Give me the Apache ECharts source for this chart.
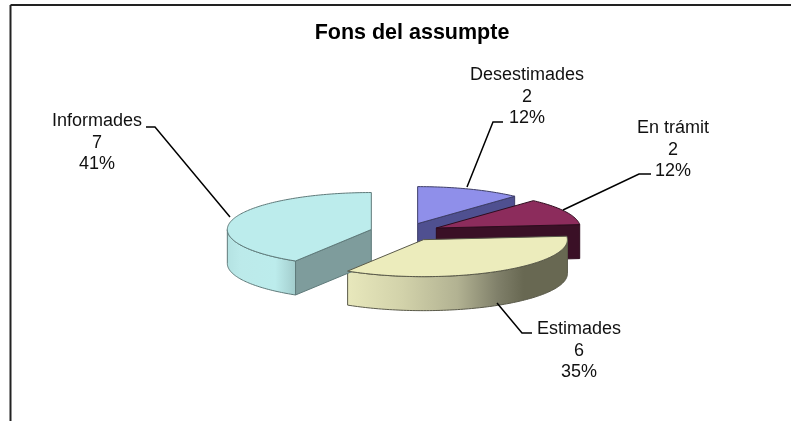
<!DOCTYPE html>
<html>
<head>
<meta charset="utf-8">
<style>html,body{margin:0;padding:0;background:#fff}#c{width:791px;height:421px}</style>
<script src="https://cdn.jsdelivr.net/npm/echarts@6/dist/echarts.min.js"></script>
</head>
<body>
<div id="c"></div>
<script>
var titleText = 'Fons del assumpte';
var categories = ['Desestimades', 'En trámit', 'Estimades', 'Informades'];
var values = [2, 2, 6, 7];

var total = values.reduce(function (a, b) { return a + b; }, 0);
var C = { x: 405, y: 232, rx: 144, ry: 37, depth: 34, explode: 35 };
var looks = [
  { top: '#8F8FEA', cut: '#4F5090', rim: null, edge: '#3e3e68' },
  { top: '#8C2C5C', cut: '#3A1026', rim: null, edge: '#2e0c1e' },
  { top: '#ECECBC', cut: '#8A8A70', edge: '#5a5a4a',
    rim: [[0, '#E8E8BC'], [0.25, '#D2D2AA'], [0.5, '#B2B292'], [0.68, '#80806A'], [0.8, '#686852'], [1, '#686852']] },
  { top: '#BCECEC', cut: '#7E9C9C', edge: '#5f7a7a',
    rim: [[0, '#B4E2E2'], [0.2, '#BCEAEA'], [0.7, '#BCECEC'], [1, '#A2CCCC']] }
];
var labelBoxes = [
  { x: 527, y: 97, line: [[503, 122], [493, 122], [467, 187]] },
  { x: 673, y: 150, line: [[651, 174], [639, 174], [563, 210]] },
  { x: 579, y: 351, line: [[532, 333], [522, 333], [497, 303]] },
  { x: 97, y: 143, line: [[146, 127], [155, 127], [230, 217]] }
];

function pt(cx, cy, a, dz) {
  return [cx + C.rx * Math.sin(a), cy - C.ry * Math.cos(a) + (dz || 0)];
}
function arc(cx, cy, a0, a1, dz) {
  var out = [], n = Math.max(2, Math.ceil(Math.abs(a1 - a0) / 0.02));
  for (var i = 0; i <= n; i++) out.push(pt(cx, cy, a0 + (a1 - a0) * i / n, dz));
  return out;
}
function poly(points, fill, stroke, z) {
  return { type: 'polygon', z2: z, shape: { points: points },
    style: { fill: fill, stroke: stroke, lineWidth: 1 } };
}
function angles(idx) {
  var before = 0;
  for (var i = 0; i < idx; i++) before += values[i];
  return [before / total * 2 * Math.PI, (before + values[idx]) / total * 2 * Math.PI];
}

function renderItem(params, api) {
  var i = params.dataIndex, v = api.value(0);
  var ang = angles(i), a0 = ang[0], a1 = ang[1], mid = (a0 + a1) / 2;
  var cx = C.x + C.explode * Math.sin(mid);
  var cy = C.y - C.explode * C.ry / C.rx * Math.cos(mid);
  var L = looks[i], kids = [], d = C.depth;

  // straight cut faces that look toward the viewer
  [a0, a1].forEach(function (a, k) {
    var ny = k === 1 ? Math.sin(a) : -Math.sin(a);
    if (ny > 0.02) {
      var p = pt(cx, cy, a);
      kids.push(poly([[cx, cy], p, [p[0], p[1] + d], [cx, cy + d]], L.cut, L.edge, 1));
    }
  });
  // outer rim: only the front half (90 to 270 degrees clockwise from north)
  var r0 = Math.max(a0, Math.PI / 2), r1 = Math.min(a1, 3 * Math.PI / 2);
  if (r1 > r0) {
    var upper = arc(cx, cy, r0, r1, 0), lower = arc(cx, cy, r1, r0, d);
    var stops = (L.rim || [[0, L.cut], [1, L.cut]]).map(function (s) { return { offset: s[0], color: s[1] }; });
    var grad = new echarts.graphic.LinearGradient(0, 0, 1, 0, stops);
    kids.push(poly(upper.concat(lower), grad, L.edge, 1));
  }
  // top face
  var top = [[cx, cy]].concat(arc(cx, cy, a0, a1, 0));
  kids.push(poly(top, L.top, L.edge, 2));

  // leader and label
  var b = labelBoxes[i];
  kids.push({ type: 'polyline', z2: 3, shape: { points: b.line },
    style: { stroke: '#000', lineWidth: 1.5, fill: null } });
  kids.push({ type: 'text', z2: 4, style: {
    x: b.x, y: b.y, align: 'center', verticalAlign: 'middle',
    text: categories[i] + '\n' + v + '\n' + Math.round(v / total * 100) + '%',
    fill: '#111', font: '18px "Liberation Sans", Arial, sans-serif', lineHeight: 21.5 } });
  return { type: 'group', children: kids };
}

var chart = echarts.init(document.getElementById('c'), null, { renderer: 'canvas' });
chart.setOption({
  animation: false,
  backgroundColor: '#fff',
  title: { text: titleText, left: 407, top: 17, textAlign: 'center',
    textStyle: { color: '#000', fontWeight: 'bold', fontSize: 21.5, fontFamily: '"Liberation Sans", Arial, sans-serif' } },
  graphic: [
    { type: 'line', shape: { x1: 10.5, y1: 5, x2: 791, y2: 5 }, style: { stroke: '#222', lineWidth: 2 } },
    { type: 'line', shape: { x1: 10.5, y1: 5, x2: 10.5, y2: 421 }, style: { stroke: '#222', lineWidth: 2 } }
  ],
  series: [{
    type: 'custom',
    coordinateSystem: 'none',
    clip: false,
    silent: true,
    renderItem: renderItem,
    data: values.map(function (v, i) { return { name: categories[i], value: [v] }; })
  }]
});
</script>
</body>
</html>
